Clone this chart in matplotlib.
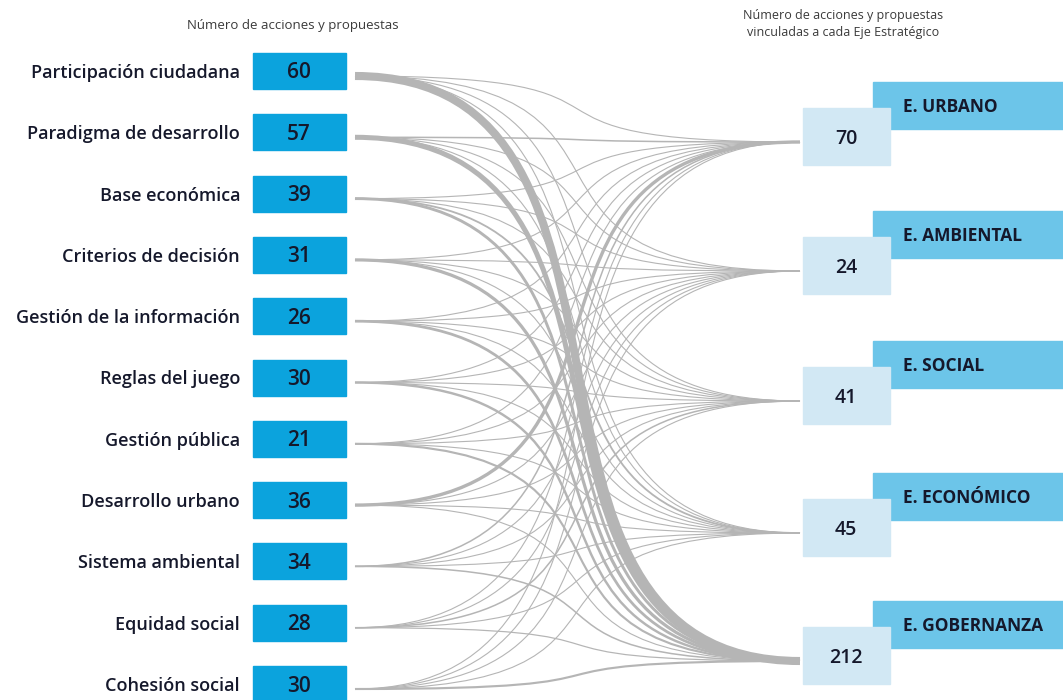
import numpy as np
import matplotlib.pyplot as plt
from matplotlib.patches import Rectangle, PathPatch
from matplotlib.path import Path

# =========================
# DATOS
# =========================
categorias = ["Participación ciudadana", "Paradigma de desarrollo", "Base económica",
              "Criterios de decisión", "Gestión de la información", "Reglas del juego",
              "Gestión pública", "Desarrollo urbano", "Sistema ambiental",
              "Equidad social", "Cohesión social"]
totales = [60, 57, 39, 31, 26, 30, 21, 36, 34, 28, 30]

ejes = ["E. URBANO", "E. AMBIENTAL", "E. SOCIAL", "E. ECONÓMICO", "E. GOBERNANZA"]
totales_ejes = [70, 24, 41, 45, 212]

# vinculos de cada categoria con cada eje (Urbano, Ambiental, Social, Economico, Gobernanza)
v_participacion = [1, 1, 3, 2, 53]
v_paradigma     = [10, 3, 5, 6, 33]
v_base_econ     = [3, 2, 3, 12, 19]
v_criterios     = [3, 2, 2, 3, 21]
v_gestion_info  = [2, 2, 2, 2, 18]
v_reglas        = [5, 2, 3, 4, 16]
v_gestion_pub   = [2, 1, 2, 2, 14]
v_des_urbano    = [22, 2, 3, 3, 6]
v_sist_amb      = [10, 6, 4, 4, 10]
v_equidad       = [6, 1, 10, 3, 8]
v_cohesion      = [6, 2, 4, 4, 14]
vinculos = [v_participacion, v_paradigma, v_base_econ, v_criterios, v_gestion_info,
            v_reglas, v_gestion_pub, v_des_urbano, v_sist_amb, v_equidad, v_cohesion]

# =========================
# ESTILO
# =========================
plt.rcParams['font.family'] = ['Open Sans', 'DejaVu Sans']
AZUL = "#0ba3dd"
AZUL_CAB = "#6cc5e9"
AZUL_CLARO = "#d2e8f4"
TEXTO = "#15182b"
GRIS = "#b5b5b5"

fig = plt.figure(figsize=(10.63, 7.0), dpi=100)
ax = fig.add_axes([0, 0, 1, 1])
ax.set_xlim(0, 1063)
ax.set_ylim(700, 0)
ax.axis('off')

# posiciones
y_izq = 71 + 61.3 * np.arange(len(categorias))
y_der = np.array([137, 266, 396, 528, 656])
x0, x1 = 355, 800
k = 0.75

# =========================
# CURVAS
# =========================
for i, fila in enumerate(vinculos):
    ya = y_izq[i] + 5
    for j, v in enumerate(fila):
        if v <= 0:
            continue
        yb = y_der[j] + 5
        dx = x1 - x0
        verts = [(x0, ya), (x0 + k * dx, ya), (x1 - k * dx, yb), (x1, yb)]
        path = Path(verts, [Path.MOVETO, Path.CURVE4, Path.CURVE4, Path.CURVE4])
        ax.add_patch(PathPatch(path, facecolor='none', edgecolor=GRIS,
                               lw=max(0.8, 0.11 * v), capstyle='butt', zorder=1))

# =========================
# NODOS IZQUIERDA
# =========================
for i, (cat, tot) in enumerate(zip(categorias, totales)):
    y = y_izq[i]
    ax.add_patch(Rectangle((253, y - 18), 93, 36, color=AZUL, zorder=2))
    ax.text(299, y + 2, str(tot), ha='center', va='center', fontsize=15,
            fontweight='semibold', color=TEXTO, zorder=3)
    ax.text(240, y + 2, cat, ha='right', va='center', fontsize=13,
            fontweight='semibold', color=TEXTO)

# =========================
# NODOS DERECHA
# =========================
for j, (eje, tot) in enumerate(zip(ejes, totales_ejes)):
    y = y_der[j]
    ax.add_patch(Rectangle((873, y - 55), 190, 47, color=AZUL_CAB, zorder=2))
    ax.add_patch(Rectangle((803, y - 29), 87, 57, color=AZUL_CLARO, zorder=3))
    ax.text(903, y - 30, eje, ha='left', va='center', fontsize=12.5,
            fontweight='bold', color=TEXTO, zorder=4)
    ax.text(846, y + 2, str(tot), ha='center', va='center', fontsize=14,
            fontweight='semibold', color=TEXTO, zorder=4)

# titulos
ax.text(293, 26, "Número de acciones y propuestas", ha='center', va='center',
        fontsize=9.5, color="#3a3a3a")
ax.text(843, 24, "Número de acciones y propuestas\nvinculadas a cada Eje Estratégico",
        ha='center', va='center', fontsize=9, color="#3a3a3a", linespacing=1.4)

fig.savefig("out.png", dpi=100)
